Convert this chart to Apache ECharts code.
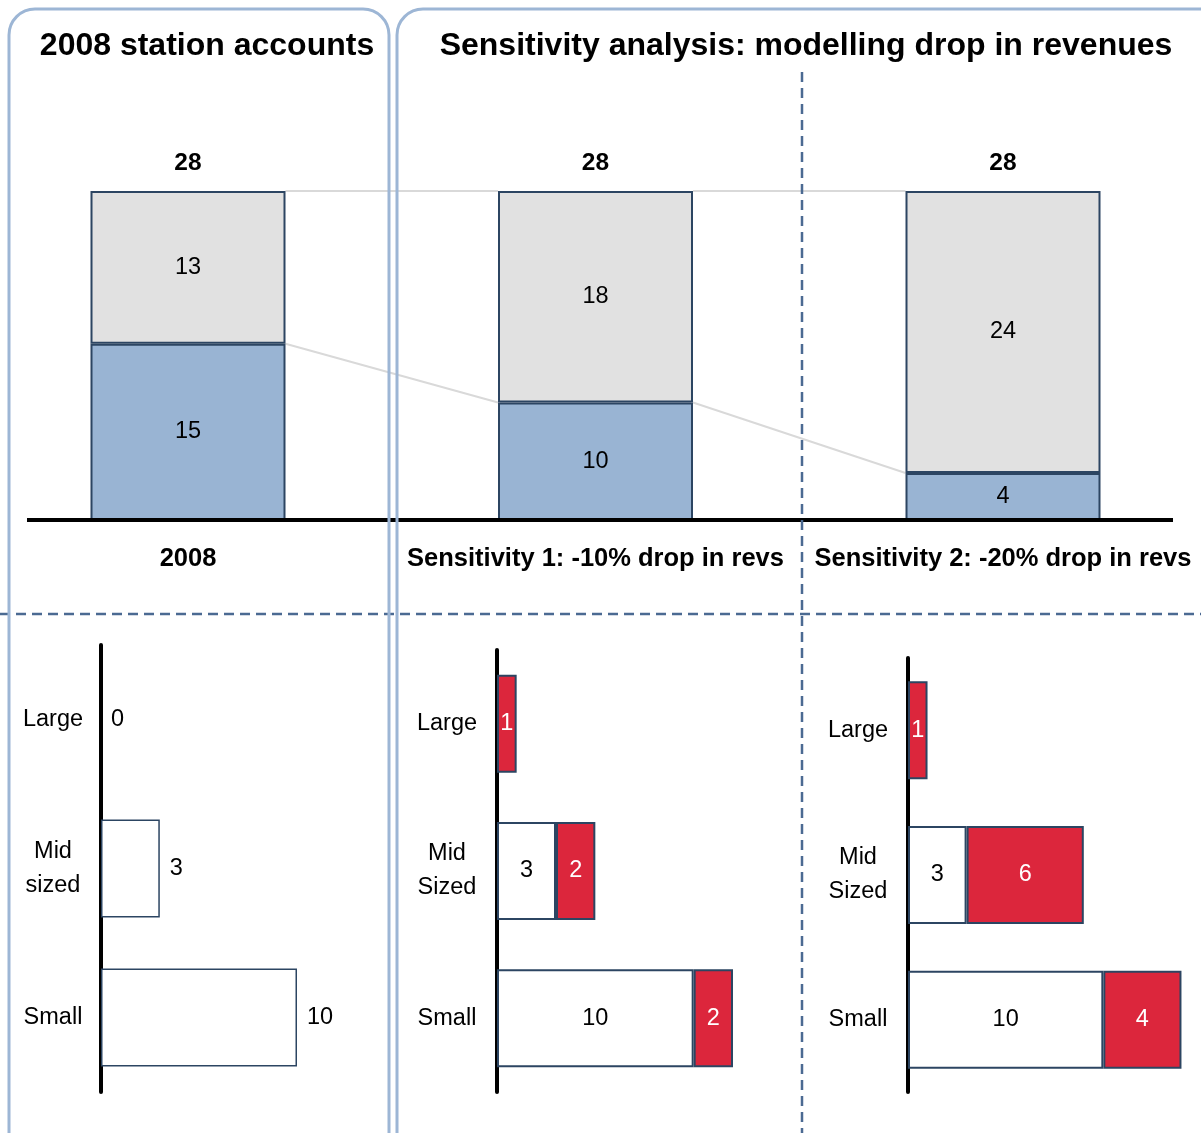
<!DOCTYPE html>
<html>
<head>
<meta charset="utf-8">
<script src="https://cdn.jsdelivr.net/npm/echarts@6/dist/echarts.min.js"></script>
<style>
  html, body { margin: 0; padding: 0; background: #fff; }
  #chart { width: 1201px; height: 1133px; }
</style>
</head>
<body>
<div id="chart"></div>
<script>
// top panel: station counts per scenario
const scenarios = ['2008', 'Sensitivity 1: -10% drop in revs', 'Sensitivity 2: -20% drop in revs'];
const viableStations = [15, 10, 4];
const unviableStations = [13, 18, 24];
const totalStations = [28, 28, 28];

// bottom panels: unviable stations by size band
const sizeBands2008 = ['Large', 'Mid\nsized', 'Small'];
const sizeBands = ['Large', 'Mid\nSized', 'Small'];
const unviable2008 = [0, 3, 10];
const sens1Existing = [0, 3, 10];
const sens1Added = [1, 2, 2];
const sens2Existing = [0, 3, 10];
const sens2Added = [1, 6, 4];

const FONT = "'Liberation Sans', Arial, sans-serif";
const NAVY = '#2c4562';
const RED = '#dc263c';
const BLUE = '#99b4d3';
const GREY = '#e1e1e1';
const PANEL = '#9db6d5';
const DASH = '#4b6a92';
const TOP_BAR_W = 195;

const chart = echarts.init(document.getElementById('chart'));

// series lines between neighbouring columns
const connectors = [];
for (let i = 0; i < scenarios.length - 1; i++) {
  connectors.push([i, viableStations[i], viableStations[i + 1]]);
  connectors.push([i, totalStations[i], totalStations[i + 1]]);
}

const hideZero = p => (p.value === 0 ? '' : String(p.value));
// zero-length bars get no outline
const noEdgeAtZero = arr => arr.map(v => (v === 0 ? { value: v, itemStyle: { borderWidth: 0 } } : v));

function sizeAxis(gridIndex, cats, margin) {
  return {
    type: 'category',
    gridIndex,
    inverse: true,
    data: cats,
    axisTick: { show: false },
    axisLine: { show: true, lineStyle: { color: '#000', width: 4 } },
    axisLabel: {
      color: '#000', fontSize: 23.5, fontFamily: FONT, lineHeight: 34,
      align: 'center', margin
    }
  };
}

function sizeValueAxis(gridIndex) {
  return { type: 'value', gridIndex, min: 0, max: 15, show: false };
}

const barBorder = { borderColor: NAVY, borderWidth: 2 };

const option = {
  animation: false,
  backgroundColor: '#fff',
  textStyle: { fontFamily: FONT },
  grid: [
    { left: 188, right: 198, top: 191, height: 329 },
    { left: 101, top: 645, height: 447, width: 294 },
    { left: 497, top: 650, height: 442, width: 295 },
    { left: 908, top: 658, height: 434, width: 294 }
  ],
  xAxis: [
    {
      type: 'category',
      gridIndex: 0,
      data: scenarios,
      boundaryGap: false,
      axisLine: { show: false },
      axisTick: { show: false },
      axisLabel: {
        interval: 0, color: '#000', fontSize: 25.5, fontWeight: 'bold',
        fontFamily: FONT, margin: 26
      }
    },
    sizeValueAxis(1),
    sizeValueAxis(2),
    sizeValueAxis(3)
  ],
  yAxis: [
    { type: 'value', gridIndex: 0, min: 0, max: 28, show: false },
    sizeAxis(1, sizeBands2008, 48),
    sizeAxis(2, sizeBands, 50),
    sizeAxis(3, sizeBands, 50)
  ],
  series: [
    {
      type: 'custom',
      xAxisIndex: 0, yAxisIndex: 0,
      data: connectors,
      encode: { x: 0, y: [1, 2] },
      z: 1,
      silent: true,
      renderItem: function (params, api) {
        const i = api.value(0);
        const a = api.coord([i, api.value(1)]);
        const b = api.coord([i + 1, api.value(2)]);
        return {
          type: 'line',
          shape: { x1: a[0] + TOP_BAR_W / 2, y1: a[1], x2: b[0] - TOP_BAR_W / 2, y2: b[1] },
          style: { stroke: '#d9d9d9', lineWidth: 2 }
        };
      }
    },
    {
      name: 'Viable', type: 'bar', stack: 'top', xAxisIndex: 0, yAxisIndex: 0,
      data: viableStations, barWidth: TOP_BAR_W, z: 3,
      itemStyle: Object.assign({ color: BLUE }, barBorder),
      label: { show: true, position: 'inside', color: '#000', fontSize: 23.5, fontFamily: FONT }
    },
    {
      name: 'Unviable', type: 'bar', stack: 'top', xAxisIndex: 0, yAxisIndex: 0,
      data: unviableStations, barWidth: TOP_BAR_W, z: 3,
      itemStyle: Object.assign({ color: GREY }, barBorder),
      label: { show: true, position: 'inside', color: '#000', fontSize: 23.5, fontFamily: FONT }
    },
    {
      name: 'Total', type: 'scatter', xAxisIndex: 0, yAxisIndex: 0,
      data: totalStations, symbolSize: 0, z: 4,
      itemStyle: { opacity: 1 },
      label: {
        show: true, position: 'top', distance: 15, color: '#000',
        fontSize: 24.5, fontWeight: 'bold', fontFamily: FONT
      }
    },
    {
      name: '2008', type: 'bar', xAxisIndex: 1, yAxisIndex: 1,
      data: noEdgeAtZero(unviable2008), barWidth: 98,
      itemStyle: Object.assign({ color: '#fff' }, barBorder, { borderWidth: 1.5 }),
      label: { show: true, position: 'right', distance: 10, color: '#000', fontSize: 23.5, fontFamily: FONT }
    },
    {
      name: 'S1 existing', type: 'bar', stack: 's1', xAxisIndex: 2, yAxisIndex: 2,
      data: noEdgeAtZero(sens1Existing), barWidth: 98,
      itemStyle: Object.assign({ color: '#fff' }, barBorder),
      label: { show: true, position: 'inside', color: '#000', fontSize: 23.5, fontFamily: FONT, formatter: hideZero }
    },
    {
      name: 'S1 added', type: 'bar', stack: 's1', xAxisIndex: 2, yAxisIndex: 2,
      data: sens1Added, barWidth: 98,
      itemStyle: Object.assign({ color: RED }, barBorder),
      label: { show: true, position: 'inside', color: '#fff', fontSize: 23.5, fontFamily: FONT }
    },
    {
      name: 'S2 existing', type: 'bar', stack: 's2', xAxisIndex: 3, yAxisIndex: 3,
      data: noEdgeAtZero(sens2Existing), barWidth: 98,
      itemStyle: Object.assign({ color: '#fff' }, barBorder),
      label: { show: true, position: 'inside', color: '#000', fontSize: 23.5, fontFamily: FONT, formatter: hideZero }
    },
    {
      name: 'S2 added', type: 'bar', stack: 's2', xAxisIndex: 3, yAxisIndex: 3,
      data: sens2Added, barWidth: 98,
      itemStyle: Object.assign({ color: RED }, barBorder),
      label: { show: true, position: 'inside', color: '#fff', fontSize: 23.5, fontFamily: FONT }
    }
  ],
  graphic: [
    {
      type: 'rect', z: 10, silent: true,
      shape: { x: 9, y: 9, width: 380, height: 1160, r: 26 },
      style: { fill: 'none', stroke: PANEL, lineWidth: 3 }
    },
    {
      type: 'rect', z: 10, silent: true,
      shape: { x: 397, y: 9, width: 860, height: 1160, r: 26 },
      style: { fill: 'none', stroke: PANEL, lineWidth: 3 }
    },
    {
      type: 'line', z: 5, silent: true,
      shape: { x1: 27, y1: 520, x2: 1173, y2: 520 },
      style: { stroke: '#000', lineWidth: 4 }
    },
    {
      type: 'line', z: 5, silent: true,
      shape: { x1: 0, y1: 614, x2: 1201, y2: 614 },
      style: { stroke: DASH, lineWidth: 2.5, lineDash: [10, 6] }
    },
    {
      type: 'line', z: 5, silent: true,
      shape: { x1: 802, y1: 72, x2: 802, y2: 1133 },
      style: { stroke: DASH, lineWidth: 2.5, lineDash: [10, 6] }
    },
    {
      type: 'text', z: 10, x: 207, y: 46,
      style: {
        text: '2008 station accounts', fill: '#000',
        font: "bold 32px 'Liberation Sans', Arial, sans-serif",
        align: 'center', verticalAlign: 'middle'
      }
    },
    {
      type: 'text', z: 10, x: 806, y: 46,
      style: {
        text: 'Sensitivity analysis: modelling drop in revenues', fill: '#000',
        font: "bold 32px 'Liberation Sans', Arial, sans-serif",
        align: 'center', verticalAlign: 'middle'
      }
    }
  ]
};

chart.setOption(option);
</script>
</body>
</html>
